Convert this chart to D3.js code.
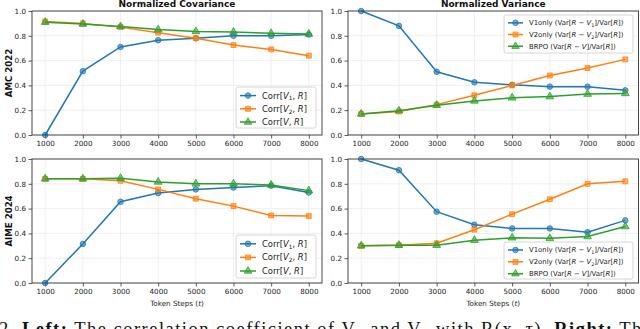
<!DOCTYPE html>
<html><head><meta charset="utf-8">
<script src="https://cdn.jsdelivr.net/npm/d3@7/dist/d3.min.js"></script>
<style>body{margin:0;background:#fff;}svg{display:block;}</style>
</head><body>
<svg id="c" width="640" height="329"></svg>
<script>
const steps = [1000, 2000, 3000, 4000, 5000, 6000, 7000, 8000];
const xTicks = [1000, 2000, 3000, 4000, 5000, 6000, 7000, 8000];
const yTicks = [0, 0.2, 0.4, 0.6, 0.8, 1.0];

// AMC 2022 - Normalized Covariance
const amcCorrV1 = [0.0, 0.515, 0.71, 0.765, 0.78, 0.80, 0.80, 0.81];
const amcCorrV2 = [0.915, 0.90, 0.87, 0.825, 0.78, 0.725, 0.69, 0.64];
const amcCorrV  = [0.91, 0.895, 0.875, 0.85, 0.835, 0.83, 0.82, 0.815];
// AMC 2022 - Normalized Variance
const amcVarV1 = [1.0, 0.88, 0.51, 0.425, 0.405, 0.39, 0.39, 0.36];
const amcVarV2 = [0.17, 0.19, 0.245, 0.32, 0.40, 0.48, 0.54, 0.61];
const amcVarBR = [0.17, 0.195, 0.24, 0.275, 0.30, 0.31, 0.33, 0.335];
// AIME 2024 - Normalized Covariance
const aimeCorrV1 = [0.0, 0.315, 0.655, 0.725, 0.755, 0.77, 0.785, 0.73];
const aimeCorrV2 = [0.84, 0.84, 0.825, 0.755, 0.68, 0.62, 0.545, 0.54];
const aimeCorrV  = [0.84, 0.84, 0.845, 0.815, 0.80, 0.80, 0.79, 0.745];
// AIME 2024 - Normalized Variance
const aimeVarV1 = [1.0, 0.91, 0.575, 0.47, 0.44, 0.44, 0.41, 0.505];
const aimeVarV2 = [0.30, 0.305, 0.32, 0.43, 0.555, 0.675, 0.80, 0.82];
const aimeVarBR = [0.30, 0.305, 0.305, 0.345, 0.365, 0.36, 0.375, 0.455];

const colors = ["#1f77b4", "#ff7f0e", "#2ca02c"];
const markers = ["circle", "square", "triangle"];

// label parts: [text, style] style: n normal, i italic, s subscript
const corrLabels = [
  [["Corr[","n"],["V","i"],["1","s"],[", ","n"],["R","i"],["]","n"]],
  [["Corr[","n"],["V","i"],["2","s"],[", ","n"],["R","i"],["]","n"]],
  [["Corr[","n"],["V","i"],[", ","n"],["R","i"],["]","n"]]
];
const varLabels = [
  [["V1only (Var[","n"],["R","i"],[" − ","n"],["V","i"],["1","s"],["]/Var[","n"],["R","i"],["])","n"]],
  [["V2only (Var[","n"],["R","i"],[" − ","n"],["V","i"],["2","s"],["]/Var[","n"],["R","i"],["])","n"]],
  [["BRPO (Var[","n"],["R","i"],[" − ","n"],["V","i"],["]/Var[","n"],["R","i"],["])","n"]]
];

const panels = [
  {x0:32, x1:322, y0:135, y1:11, series:[amcCorrV1, amcCorrV2, amcCorrV], labels:corrLabels,
   title:"Normalized Covariance", ylabel:"AMC 2022", xlabel:false,
   leg:{x:236, y:87, w:80, h:41, fs:8.4, dy:13.2, lineLen:16}},
  {x0:348, x1:638.5, y0:135, y1:11, series:[amcVarV1, amcVarV2, amcVarBR], labels:varLabels,
   title:"Normalized Variance", ylabel:null, xlabel:false,
   leg:{x:504, y:15, w:129, h:38, fs:6.9, dy:11.7, lineLen:15}},
  {x0:32, x1:322, y0:283, y1:159, series:[aimeCorrV1, aimeCorrV2, aimeCorrV], labels:corrLabels,
   title:null, ylabel:"AIME 2024", xlabel:true,
   leg:{x:236, y:235, w:80, h:43, fs:8.4, dy:13.6, lineLen:16}},
  {x0:348, x1:638.5, y0:283, y1:159, series:[aimeVarV1, aimeVarV2, aimeVarBR], labels:varLabels,
   title:null, ylabel:null, xlabel:true,
   leg:{x:504, y:242, w:129, h:37, fs:6.9, dy:11.9, lineLen:15}}
];

const svg = d3.select("#c");
const FONT = "'DejaVu Sans', sans-serif";

function markerPath(type, size) {
  const sym = type === "circle" ? d3.symbolCircle : type === "square" ? d3.symbolSquare : d3.symbolTriangle;
  return d3.symbol().type(sym).size(size)();
}

function addLabel(textSel, parts, fs) {
  parts.forEach(([t, s]) => {
    const ts = textSel.append("tspan").text(t);
    if (s === "i") ts.attr("font-style", "italic");
    if (s === "s") ts.attr("font-size", fs * 0.7).attr("dy", fs * 0.22);
    else if (textSel.node().dataset.sub === "1") ts.attr("dy", -fs * 0.22);
    textSel.node().dataset.sub = (s === "s") ? "1" : "0";
  });
}

panels.forEach(p => {
  const x = d3.scaleLinear().domain([650, 8350]).range([p.x0, p.x1]);
  const y = d3.scaleLinear().domain([0, 1]).range([p.y0, p.y1]);
  const g = svg.append("g");

  // grid
  g.selectAll(".gx").data(xTicks).join("line")
    .attr("x1", d => x(d)).attr("x2", d => x(d)).attr("y1", p.y0).attr("y2", p.y1)
    .attr("stroke", "#ebebeb").attr("stroke-width", 0.8);
  g.selectAll(".gy").data(yTicks).join("line")
    .attr("x1", p.x0).attr("x2", p.x1).attr("y1", d => y(d)).attr("y2", d => y(d))
    .attr("stroke", "#ebebeb").attr("stroke-width", 0.8);

  // axes
  const xa = g.append("g").attr("transform", `translate(0,${p.y0})`)
    .call(d3.axisBottom(x).tickValues(xTicks).tickFormat(d3.format("d")).tickSize(3.5).tickPadding(2.5));
  const ya = g.append("g").attr("transform", `translate(${p.x0},0)`)
    .call(d3.axisLeft(y).tickValues(yTicks).tickFormat(d3.format(".1f")).tickSize(3.5).tickPadding(2.5));
  [xa, ya].forEach(a => {
    a.select(".domain").remove();
    a.selectAll("line").attr("stroke", "#333").attr("stroke-width", 0.8);
    a.selectAll("text").attr("font-family", FONT).attr("font-size", 7.2).attr("fill", "#222");
  });

  // series
  p.series.forEach((vals, si) => {
    const data = steps.map((s, i) => [s, vals[i]]);
    g.append("path").datum(data)
      .attr("d", d3.line().x(d => x(d[0])).y(d => y(d[1])))
      .attr("fill", "none").attr("stroke", colors[si]).attr("stroke-width", 1.5);
    g.selectAll(null).data(data).join("path")
      .attr("transform", d => `translate(${x(d[0])},${y(d[1])})`)
      .attr("d", markerPath(markers[si], si === 2 ? 26 : 24))
      .attr("fill", colors[si]).attr("fill-opacity", 0.6)
      .attr("stroke", colors[si]).attr("stroke-width", 0.8);
  });

  // frame
  g.append("rect").attr("x", p.x0).attr("y", p.y1).attr("width", p.x1 - p.x0).attr("height", p.y0 - p.y1)
    .attr("fill", "none").attr("stroke", "#333").attr("stroke-width", 0.9);

  // legend
  const L = p.leg;
  const lg = g.append("g");
  lg.append("rect").attr("x", L.x).attr("y", L.y).attr("width", L.w).attr("height", L.h)
    .attr("rx", 2).attr("fill", "#fff").attr("fill-opacity", 0.85).attr("stroke", "#cccccc").attr("stroke-width", 0.8);
  p.labels.forEach((parts, i) => {
    const cy = L.y + L.dy * 0.5 + 2 + i * L.dy;
    const lx = L.x + 4;
    lg.append("line").attr("x1", lx).attr("x2", lx + L.lineLen).attr("y1", cy).attr("y2", cy)
      .attr("stroke", colors[i]).attr("stroke-width", 1.5);
    lg.append("path").attr("transform", `translate(${lx + L.lineLen / 2},${cy})`)
      .attr("d", markerPath(markers[i], 24))
      .attr("fill", colors[i]).attr("fill-opacity", 0.6).attr("stroke", colors[i]).attr("stroke-width", 0.8);
    const t = lg.append("text").attr("x", lx + L.lineLen + 6).attr("y", cy + L.fs * 0.36)
      .attr("font-family", FONT).attr("font-size", L.fs).attr("fill", "#222");
    addLabel(t, parts, L.fs);
  });

  // titles
  if (p.title) g.append("text").attr("x", (p.x0 + p.x1) / 2).attr("y", 7).attr("text-anchor", "middle")
    .attr("font-family", FONT).attr("font-weight", "bold").attr("font-size", 9).attr("fill", "#111").text(p.title);
  if (p.ylabel) g.append("text").attr("transform", `translate(12,${(p.y0 + p.y1) / 2}) rotate(-90)`)
    .attr("text-anchor", "middle").attr("font-family", FONT).attr("font-weight", "bold").attr("font-size", 8.6)
    .attr("fill", "#111").text(p.ylabel);
  if (p.xlabel) {
    const t = g.append("text").attr("x", (p.x0 + p.x1) / 2).attr("y", p.y0 + 22.5).attr("text-anchor", "middle")
      .attr("font-family", FONT).attr("font-size", 7.2).attr("fill", "#222");
    t.append("tspan").text("Token Steps (");
    t.append("tspan").attr("font-style", "italic").text("t");
    t.append("tspan").text(")");
  }
});

// partially visible caption of the source figure (cut by the bottom edge, as in the reference)
const cap = svg.append("text").attr("x", -1).attr("y", 335).attr("font-family", "'Liberation Serif', serif")
  .attr("font-size", 18.5).attr("fill", "#111").attr("textLength", 652).attr("lengthAdjust", "spacing");
cap.append("tspan").text("2. ");
cap.append("tspan").attr("font-weight", "bold").text("Left:");
cap.append("tspan").text(" The correlation coefficient of V₁ and V₂ with R(x, τ). ");
cap.append("tspan").attr("font-weight", "bold").text("Right:");
cap.append("tspan").text(" The");
</script>
</body></html>
